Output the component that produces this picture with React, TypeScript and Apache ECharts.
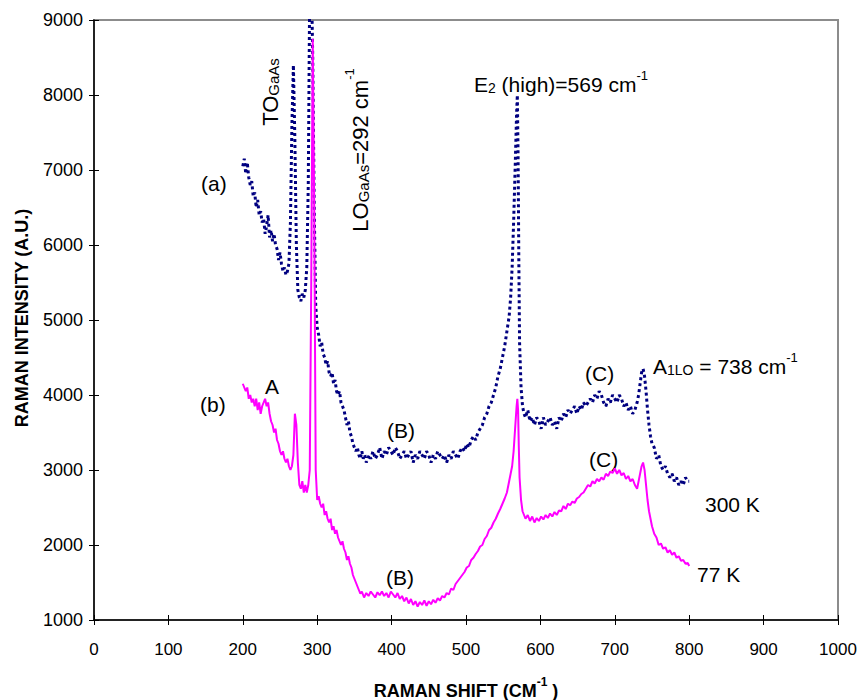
import React, { useEffect, useRef } from "react";
import * as echarts from "echarts";

// Raman shift (cm^-1) and intensity (a.u.) — (a) 300 K, dotted navy
const shiftA = [
  200, 202, 204, 206, 208, 210, 212, 214, 216, 218, 220, 222, 224, 226, 228, 230, 232, 234, 236, 238,
  240, 242, 244, 246, 248, 250, 252, 254, 256, 258, 260, 262, 264, 266, 268, 270, 272, 274, 276, 278,
  280, 282, 284, 286, 288, 290, 292, 294, 296, 298, 300, 302, 304, 306, 308, 310, 312, 314, 316, 318,
  320, 322, 324, 326, 328, 330, 332, 334, 336, 338, 340, 342, 344, 346, 348, 350, 352, 354, 356, 358,
  360, 362, 364, 366, 368, 370, 372, 375, 378, 381, 384, 387, 390, 393, 396, 399, 402, 405, 408, 411,
  414, 417, 420, 423, 426, 429, 432, 435, 438, 441, 444, 447, 450, 453, 456, 459, 462, 465, 468, 471,
  474, 477, 480, 483, 486, 489, 492, 495, 498, 501, 504, 507, 510, 513, 516, 519, 522, 525, 528, 531,
  534, 537, 540, 543, 546, 549, 552, 555, 558, 560, 562, 564, 566, 568, 569, 570, 571, 572, 574, 576,
  578, 580, 583, 586, 589, 592, 595, 598, 601, 604, 607, 610, 613, 616, 619, 622, 625, 628, 631, 634,
  637, 640, 643, 646, 649, 652, 655, 658, 661, 664, 667, 670, 673, 676, 679, 682, 685, 688, 691, 694,
  697, 700, 703, 706, 709, 712, 715, 718, 721, 724, 727, 730, 732, 734, 736, 738, 740, 742, 744, 746,
  748, 750, 753, 756, 759, 762, 765, 768, 771, 774, 777, 780, 783, 786, 789, 792, 795, 798, 800,
];
const intensityA = [
  7050, 7150, 6950, 7100, 6900, 6800, 6850, 6650, 6700, 6500, 6600, 6400, 6450, 6300, 6350, 6150, 6250, 6400, 6100, 6200,
  6050, 6150, 6000, 5950, 5800, 5900, 5750, 5650, 5700, 5600, 5650, 5750, 6300, 7600, 8400, 7400, 6000, 5400, 5300, 5250,
  5350, 5300, 5400, 5700, 6800, 9500, 9700, 8500, 6500, 5200, 4900, 4800, 4650, 4700, 4550, 4500, 4400, 4450, 4300, 4250,
  4300, 4150, 4200, 4050, 4000, 4050, 3900, 3850, 3800, 3700, 3600, 3650, 3500, 3450, 3350, 3300, 3250, 3300, 3200, 3150,
  3250, 3150, 3200, 3100, 3150, 3200, 3150, 3250, 3150, 3200, 3300, 3150, 3250, 3200, 3300, 3250, 3200, 3300, 3250, 3150,
  3200, 3250, 3150, 3200, 3250, 3100, 3200, 3150, 3250, 3200, 3150, 3250, 3200, 3100, 3200, 3150, 3250, 3200, 3150, 3200,
  3100, 3200, 3150, 3250, 3200, 3150, 3250, 3300, 3250, 3350, 3300, 3400, 3450, 3400, 3500, 3550, 3600, 3700, 3750, 3850,
  3900, 4000, 4100, 4250, 4350, 4500, 4650, 4850, 5050, 5300, 5700, 6300, 7000, 7750, 8000, 7200, 5800, 4700, 4100, 3850,
  3750, 3700, 3800, 3650, 3700, 3600, 3700, 3650, 3550, 3700, 3600, 3650, 3700, 3600, 3650, 3550, 3700, 3650, 3750, 3700,
  3800, 3750, 3800, 3850, 3750, 3850, 3800, 3900, 3850, 3900, 3950, 3900, 4000, 3950, 4050, 4000, 3900, 3850, 3950, 3900,
  4000, 3950, 3900, 4000, 3950, 3850, 3900, 3800, 3850, 3750, 3800, 3900, 4000, 4150, 4300, 4350, 4250, 4050, 3800, 3600,
  3450, 3350, 3300, 3150, 3200, 3050, 3000, 3050, 2950, 2900, 2950, 2850, 2900, 2800, 2850, 2800, 2900, 2850, 2850,
];

// (b) 77 K, solid magenta
const shiftB = [
  200, 202, 204, 206, 208, 210, 212, 214, 216, 218, 220, 222, 224, 226, 228, 230, 232, 234, 236, 238,
  240, 242, 244, 246, 248, 250, 252, 254, 256, 258, 260, 262, 264, 266, 268, 270, 272, 274, 276, 278,
  280, 282, 284, 286, 288, 290, 292, 294, 296, 298, 300, 302, 304, 306, 308, 310, 312, 314, 316, 318,
  320, 322, 324, 326, 328, 330, 332, 334, 336, 338, 340, 342, 344, 346, 348, 350, 352, 354, 356, 358,
  360, 363, 366, 369, 372, 375, 378, 381, 384, 387, 390, 393, 396, 399, 402, 405, 408, 411, 414, 417,
  420, 423, 426, 429, 432, 435, 438, 441, 444, 447, 450, 453, 456, 459, 462, 465, 468, 471, 474, 477,
  480, 483, 486, 489, 492, 495, 498, 501, 504, 507, 510, 513, 516, 519, 522, 525, 528, 531, 534, 537,
  540, 543, 546, 549, 552, 555, 558, 560, 562, 564, 566, 568, 569, 570, 571, 572, 574, 576, 578, 580,
  583, 586, 589, 592, 595, 598, 601, 604, 607, 610, 613, 616, 619, 622, 625, 628, 631, 634, 637, 640,
  643, 646, 649, 652, 655, 658, 661, 664, 667, 670, 673, 676, 679, 682, 685, 688, 691, 694, 697, 700,
  703, 706, 709, 712, 715, 718, 721, 724, 727, 730, 732, 734, 736, 738, 740, 742, 744, 746, 748, 750,
  753, 756, 759, 762, 765, 768, 771, 774, 777, 780, 783, 786, 789, 792, 795, 798, 800,
];
const intensityB = [
  4150, 4100, 4050, 4100, 3950, 4000, 3900, 3950, 3850, 3950, 3800, 3900, 3750, 3850, 3900, 3950, 3850, 3900, 3750, 3650,
  3600, 3500, 3550, 3400, 3350, 3250, 3200, 3250, 3150, 3100, 3150, 3050, 3000, 3050, 3200, 3750, 3600, 3100, 2800, 2750,
  2850, 2700, 2800, 2700, 2800, 3000, 5500, 8750, 6500, 3000, 2600, 2650, 2550, 2500, 2550, 2400, 2450, 2350, 2300, 2350,
  2200, 2250, 2150, 2200, 2100, 2050, 2000, 2050, 1950, 1900, 1800, 1850, 1750, 1700, 1600, 1550, 1500, 1450, 1400, 1350,
  1380, 1300, 1360, 1320, 1380, 1340, 1300, 1370, 1330, 1380, 1320, 1360, 1300, 1380, 1340, 1300, 1360, 1280, 1320, 1250,
  1300, 1220, 1280, 1200, 1250, 1180, 1240, 1200, 1260, 1190, 1250, 1210, 1270, 1230, 1290, 1260, 1320, 1300, 1360, 1340,
  1420, 1400, 1480, 1520, 1560, 1600, 1640, 1700, 1720, 1800, 1830, 1880, 1920, 1980, 2000, 2080, 2120, 2200, 2230, 2300,
  2350, 2420, 2480, 2550, 2620, 2700, 2850, 2950, 3050, 3250, 3550, 3850, 3950, 3800, 3300, 2900, 2600, 2450, 2400, 2350,
  2400, 2320, 2380, 2300, 2360, 2320, 2380, 2340, 2400, 2360, 2420, 2380, 2440, 2400, 2460, 2450, 2520, 2480, 2550, 2530,
  2580, 2560, 2620, 2640, 2680, 2700, 2750, 2800, 2780, 2850, 2820, 2880, 2850, 2900, 2870, 2950, 2920, 2980, 2960, 3020,
  2950, 3000, 2930, 2960, 2880, 2920, 2850, 2880, 2800, 2750, 2850, 2950, 3050, 3100, 3000, 2800, 2600, 2450, 2350, 2250,
  2150, 2100, 2000, 2020, 1950, 1970, 1900, 1930, 1870, 1900, 1830, 1850, 1790, 1800, 1750, 1760, 1720,
];

const xTicks = { min: 0, max: 1000, interval: 100 };
const yTicks = { min: 1000, max: 9000, interval: 1000 };

const FONT = "'Liberation Sans', Arial, sans-serif";

export default function App() {
  const ref = useRef<HTMLDivElement>(null);

  useEffect(() => {
    if (!ref.current) return;
    const chart = echarts.init(ref.current, null, { renderer: "svg" });

    const dataA = shiftA.map((x, i) => [x, intensityA[i]]);
    const dataB = shiftB.map((x, i) => [x, intensityB[i]]);

    const plain = (v: number) => String(v);

    const baseX = {
      type: "value" as const,
      ...xTicks,
      splitLine: { show: false },
    };
    const baseY = {
      type: "value" as const,
      ...yTicks,
      splitLine: { show: false },
    };

    const txt = (x: number, y: number, text: string) => ({
      type: "text",
      x,
      y,
      silent: true,
      style: {
        text,
        fill: "#000",
        font: `21px ${FONT}`,
        align: "left",
        verticalAlign: "middle",
      },
    });

    chart.setOption({
      animation: false,
      backgroundColor: "#fff",
      grid: {
        left: 94,
        right: 24,
        top: 20,
        bottom: 80,
        show: true,
        borderColor: "#8c8c8c",
        borderWidth: 2,
      },
      xAxis: [
        {
          ...baseX,
          axisLine: { show: true, onZero: false, lineStyle: { color: "#000", width: 1.5 } },
          axisTick: { show: true, inside: false, length: 5, lineStyle: { color: "#000" } },
          axisLabel: { color: "#000", fontSize: 17, fontFamily: FONT, margin: 21, formatter: plain },
        },
        {
          ...baseX,
          position: "bottom",
          axisLine: { show: false },
          axisTick: { show: true, inside: true, length: 5, lineStyle: { color: "#000" } },
          axisLabel: { show: false },
        },
      ],
      yAxis: [
        {
          ...baseY,
          axisLine: { show: true, onZero: false, lineStyle: { color: "#000", width: 1.5 } },
          axisTick: { show: true, inside: false, length: 5, lineStyle: { color: "#000" } },
          axisLabel: { color: "#000", fontSize: 18, fontFamily: FONT, margin: 11, formatter: plain },
        },
        {
          ...baseY,
          position: "left",
          axisLine: { show: false },
          axisTick: { show: true, inside: true, length: 5, lineStyle: { color: "#000" } },
          axisLabel: { show: false },
        },
      ],
      series: [
        {
          name: "(a) 300 K",
          type: "line",
          data: dataA,
          showSymbol: false,
          symbol: "none",
          clip: true,
          lineStyle: { color: "#000080", width: 3, type: [3, 3] },
        },
        {
          name: "(b) 77 K",
          type: "line",
          data: dataB,
          showSymbol: false,
          symbol: "none",
          clip: true,
          lineStyle: { color: "#ff00ff", width: 2 },
        },
      ],
      graphic: [
        // axis titles
        {
          type: "text",
          x: 22,
          y: 318,
          rotation: Math.PI / 2,
          silent: true,
          style: {
            text: "RAMAN INTENSITY (A.U.)",
            font: `bold 18px ${FONT}`,
            fill: "#000",
            align: "center",
            verticalAlign: "middle",
          },
        },
        {
          type: "text",
          x: 466,
          y: 688,
          silent: true,
          style: {
            text: "{t|RAMAN SHIFT (CM}{s|-1}{t| )}",
            align: "center",
            verticalAlign: "middle",
            rich: {
              t: { font: `bold 18px ${FONT}`, fill: "#000", lineHeight: 24, verticalAlign: "bottom" },
              s: { font: `bold 12px ${FONT}`, fill: "#000", lineHeight: 24, verticalAlign: "top" },
            },
          },
        },
        // annotations
        {
          type: "text",
          x: 268,
          y: 92,
          rotation: Math.PI / 2,
          silent: true,
          style: {
            text: "{m|TO}{s|GaAs}",
            align: "center",
            verticalAlign: "middle",
            rich: {
              m: { font: `22px ${FONT}`, fill: "#000", lineHeight: 26, verticalAlign: "bottom" },
              s: { font: `15px ${FONT}`, fill: "#000", lineHeight: 26, verticalAlign: "bottom" },
            },
          },
        },
        {
          type: "text",
          x: 357,
          y: 150,
          rotation: Math.PI / 2,
          silent: true,
          style: {
            text: "{m|LO}{s|GaAs}{m|=292 cm}{u|-1}",
            align: "center",
            verticalAlign: "middle",
            rich: {
              m: { font: `22px ${FONT}`, fill: "#000", lineHeight: 28, verticalAlign: "bottom" },
              s: { font: `15px ${FONT}`, fill: "#000", lineHeight: 28, verticalAlign: "bottom" },
              u: { font: `13px ${FONT}`, fill: "#000", lineHeight: 28, verticalAlign: "top" },
            },
          },
        },
        {
          type: "text",
          x: 474,
          y: 82,
          silent: true,
          style: {
            text: "{m|E}{s|2}{m| (high)=569 cm}{u|-1}",
            align: "left",
            verticalAlign: "middle",
            rich: {
              m: { font: `21px ${FONT}`, fill: "#000", lineHeight: 26, verticalAlign: "bottom" },
              s: { font: `14px ${FONT}`, fill: "#000", lineHeight: 26, verticalAlign: "bottom" },
              u: { font: `13px ${FONT}`, fill: "#000", lineHeight: 26, verticalAlign: "top" },
            },
          },
        },
        {
          type: "text",
          x: 653,
          y: 364,
          silent: true,
          style: {
            text: "{m|A}{s|1LO}{m| = 738 cm}{u|-1}",
            align: "left",
            verticalAlign: "middle",
            rich: {
              m: { font: `21px ${FONT}`, fill: "#000", lineHeight: 26, verticalAlign: "bottom" },
              s: { font: `14px ${FONT}`, fill: "#000", lineHeight: 26, verticalAlign: "bottom" },
              u: { font: `13px ${FONT}`, fill: "#000", lineHeight: 26, verticalAlign: "top" },
            },
          },
        },
        txt(201, 183, "(a)"),
        txt(200, 404, "(b)"),
        txt(265, 386, "A"),
        txt(387, 430, "(B)"),
        txt(386, 577, "(B)"),
        txt(585, 373, "(C)"),
        txt(589, 459, "(C)"),
        txt(705, 504, "300 K"),
        txt(697, 574, "77 K"),
      ],
    });

    return () => chart.dispose();
  }, []);

  return (
    <div
      ref={ref}
      style={{ position: "fixed", left: 0, top: 0, width: 862, height: 700, background: "#fff" }}
    />
  );
}
